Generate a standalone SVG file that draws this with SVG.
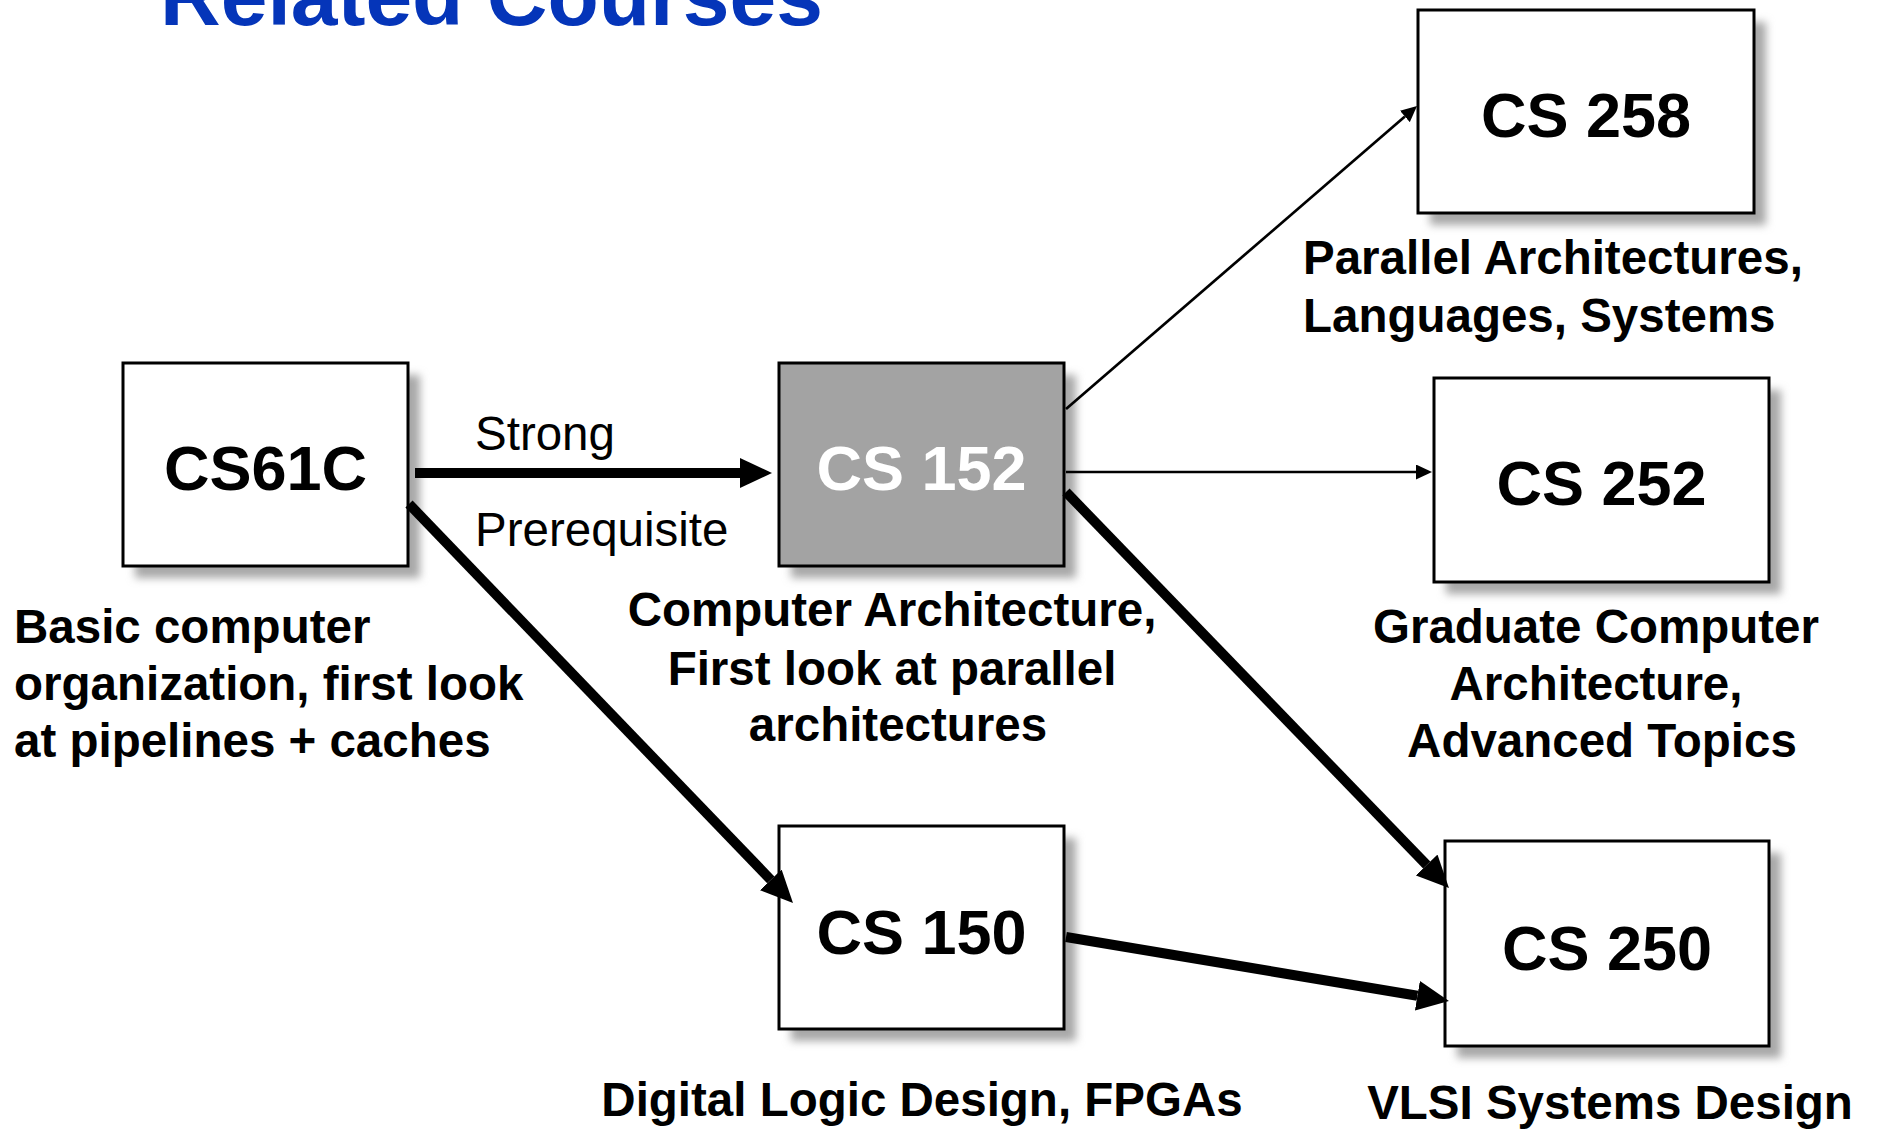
<svg xmlns="http://www.w3.org/2000/svg" width="1877" height="1130" viewBox="0 0 1877 1130">
  <defs>
    <filter id="soft" x="-10%" y="-10%" width="130%" height="130%">
      <feGaussianBlur stdDeviation="4"/>
    </filter>
    <!-- heavy arrowhead: base sits on the end of the line -->
    <marker id="headBig" viewBox="0 0 32 30" refX="0" refY="15" markerWidth="32" markerHeight="30" markerUnits="userSpaceOnUse" orient="auto">
      <path d="M0,0 L32,15 L0,30 Z" fill="#000"/>
    </marker>
    <marker id="headSmall" viewBox="0 0 16 15" refX="0" refY="7.5" markerWidth="16" markerHeight="15" markerUnits="userSpaceOnUse" orient="auto">
      <path d="M0,0 L16,7.5 L0,15 Z" fill="#000"/>
    </marker>
  </defs>
  <style>
    .shadow { fill: #a8a8a8; filter: url(#soft); }
    .box { fill: #ffffff; stroke: #000; stroke-width: 3; }
    .box.hl { fill: #a3a3a3; }
    .code { font-family: "Liberation Sans", Arial, sans-serif; font-weight: bold; font-size: 63px; text-anchor: middle; fill: #000; }
    .code.hl { fill: #ffffff; }
    .cap { font-family: "Liberation Sans", Arial, sans-serif; font-weight: bold; font-size: 47.5px; fill: #000; }
    .mid { text-anchor: middle; }
    .note { font-family: "Liberation Sans", Arial, sans-serif; font-size: 47.5px; fill: #000; }
    .title { font-family: "Liberation Sans", Arial, sans-serif; font-weight: bold; font-size: 84px; fill: #0535b9; }
    .strong { stroke: #000; stroke-width: 10; fill: none; marker-end: url(#headBig); }
    .weak { stroke: #000; stroke-width: 2.7; fill: none; marker-end: url(#headSmall); }
  </style>

  <rect width="1877" height="1130" fill="#ffffff"/>

  <text class="title" x="160" y="25">Related Courses</text>

  <g id="cs61c">
    <rect class="shadow" x="135" y="375" width="285" height="203"/>
    <rect class="box" x="123" y="363" width="285" height="203"/>
    <text class="code" x="265.5" y="490">CS61C</text>
    <text class="cap" x="14" y="643">Basic computer</text>
    <text class="cap" x="14" y="700">organization, first look</text>
    <text class="cap" x="14" y="757">at pipelines + caches</text>
  </g>

  <g id="cs152">
    <rect class="shadow" x="791" y="375" width="285" height="203"/>
    <rect class="box hl" x="779" y="363" width="285" height="203"/>
    <text class="code hl" x="921.5" y="490">CS 152</text>
    <text class="cap mid" x="892" y="626">Computer Architecture,</text>
    <text class="cap mid" x="892" y="685">First look at parallel</text>
    <text class="cap mid" x="898" y="741">architectures</text>
  </g>

  <g id="cs258">
    <rect class="shadow" x="1430" y="22" width="336" height="203"/>
    <rect class="box" x="1418" y="10" width="336" height="203"/>
    <text class="code" x="1586" y="137">CS 258</text>
    <text class="cap" x="1303" y="274">Parallel Architectures,</text>
    <text class="cap" x="1303" y="332">Languages, Systems</text>
  </g>

  <g id="cs252">
    <rect class="shadow" x="1446" y="390" width="335" height="204"/>
    <rect class="box" x="1434" y="378" width="335" height="204"/>
    <text class="code" x="1601.5" y="505">CS 252</text>
    <text class="cap mid" x="1596" y="643">Graduate Computer</text>
    <text class="cap mid" x="1596" y="700">Architecture,</text>
    <text class="cap mid" x="1602" y="757">Advanced Topics</text>
  </g>

  <g id="cs150">
    <rect class="shadow" x="791" y="838" width="285" height="203"/>
    <rect class="box" x="779" y="826" width="285" height="203"/>
    <text class="code" x="921.5" y="954">CS 150</text>
    <text class="cap mid" x="922" y="1116">Digital Logic Design, FPGAs</text>
  </g>

  <g id="cs250">
    <rect class="shadow" x="1457" y="853" width="324" height="205"/>
    <rect class="box" x="1445" y="841" width="324" height="205"/>
    <text class="code" x="1607" y="970">CS 250</text>
    <text class="cap mid" x="1610" y="1119">VLSI Systems Design</text>
  </g>

  <g id="connectors">
    <line class="strong" x1="415" y1="473" x2="740" y2="473"/>
    <text class="note" x="475" y="450">Strong</text>
    <text class="note" x="475" y="546">Prerequisite</text>
    <line class="strong" x1="409" y1="504" x2="770.8" y2="879.9"/>
    <line class="strong" x1="1066" y1="492" x2="1426.7" y2="865"/>
    <line class="strong" x1="1066" y1="937" x2="1417.4" y2="995.7"/>
    <line class="weak" x1="1066" y1="409" x2="1404.9" y2="116.5"/>
    <line class="weak" x1="1066" y1="472" x2="1416" y2="472"/>
  </g>
</svg>
